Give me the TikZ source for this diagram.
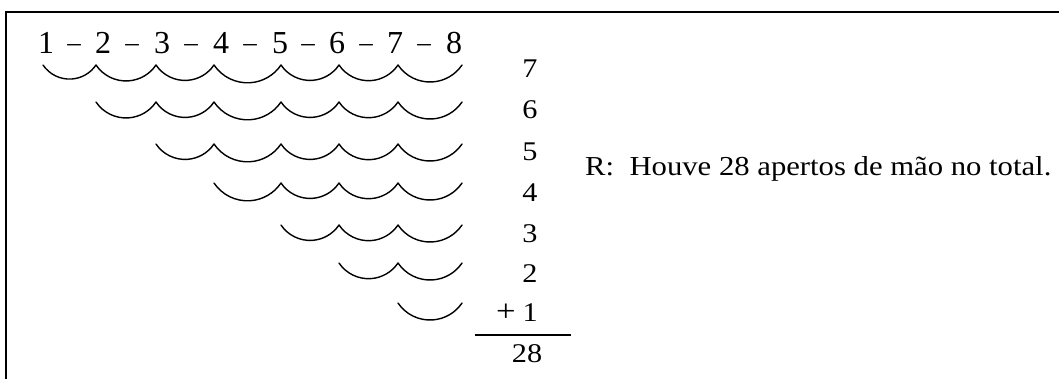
\documentclass[tikz,border=0pt]{standalone}
\usepackage{fontspec}
\setmainfont{Liberation Serif}
\newfontfamily\camfont[FakeStretch=1.12]{Liberation Serif}
\tikzset{
  frame/.style={line width=1.7pt, line cap=rect},
  wave/.style={line width=1.4pt, line cap=round},
  topdigit/.style={inner sep=0pt, anchor=base, font=\fontsize{32}{32}\selectfont},
  topdash/.style={inner sep=0pt, anchor=base, font=\fontsize{27}{27}\selectfont},
  count/.style={inner sep=0pt, anchor=base, font=\camfont\fontsize{27}{27}\selectfont},
  answer/.style={inner sep=0pt, anchor=base west, font=\camfont\fontsize{27.4}{27.4}\selectfont},
  sumline/.style={line width=2pt}
}
\begin{document}
\begin{tikzpicture}[x=1pt,y=1pt]
\useasboundingbox (0,0) rectangle (1059,-378);
% frame (only top and left edges visible)
\draw[frame] (1062,-12) -- (6,-12) -- (6,-381);
% top row of numbers
\foreach \n/\x in {1/46,2/103,3/162,4/221,5/280,6/337,7/395,8/454}
  \node[topdigit] (d\n) at (\x,-53) {\n};
\foreach \n/\x in {1/74,2/132,3/191,4/250,5/308,6/366,7/424}
  \node[topdash] (m\n) at (\x,-51) {–};
% waves
\def\P{{43,96,156,214,281,339,398,462}}
\def\Y{{65,102,144,183,225,263,303}}
\foreach \r in {1,...,7}{
  \foreach \i in {\r,...,7}{
    \pgfmathsetmacro\a{\P[\i-1]}
    \pgfmathsetmacro\b{\P[\i]}
    \pgfmathsetmacro\yy{\Y[\r-1]}
    \pgfmathsetmacro\R{(\b-\a)/1.658}
    \draw[wave] (\a,-\yy) arc[start angle=214, end angle=326, radius=\R];
  }
}
% counts
\foreach \n/\y in {7/77,6/118,5/160,4/201,3/242,2/282}
  \node[count] (c\n) at (530,-\y) {\n};
\node[count, anchor=base east] (c1) at (538,-321) {{\fontsize{31}{31}\selectfont +}\hspace{7pt}1};
\coordinate (sl) at (475,-335);
\coordinate (sr) at (571,-335);
\draw[sumline] (sl) -- (sr);
\node[count] (tot) at (527,-362) {28};
% answer
\node[answer] (ans) at (585,-175) {R:\ \ Houve 28 apertos de mão no total.};
\end{tikzpicture}
\end{document}
